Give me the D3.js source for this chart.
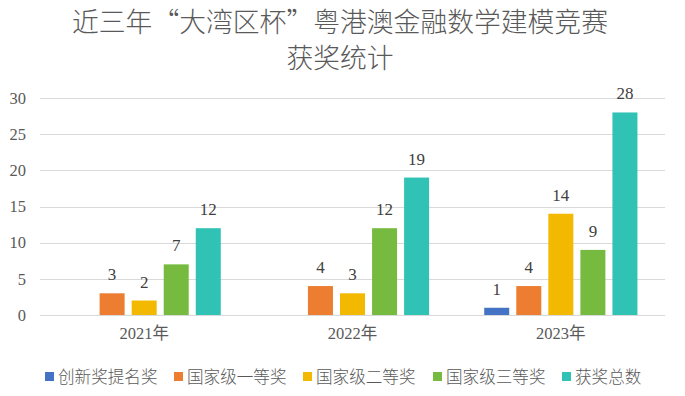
<!DOCTYPE html>
<html><head><meta charset="utf-8">
<script src="https://cdn.jsdelivr.net/npm/d3@7"></script>
<style>
body{margin:0;background:#fff;}
svg{display:block;}
.num{font-family:"Liberation Serif","Times New Roman","DejaVu Serif","Noto Sans CJK SC",serif;}
.cjk{font-family:"Noto Sans CJK SC",sans-serif;font-weight:300;}
</style></head>
<body><svg id="c" width="685" height="396"></svg>
<script>
const categories = ["2021年", "2022年", "2023年"];
const seriesNames = ["创新奖提名奖", "国家级一等奖", "国家级二等奖", "国家级三等奖", "获奖总数"];
const nominee = [null, null, 1];
const first = [3, 4, 4];
const second = [2, 3, 14];
const third = [7, 12, 9];
const total = [12, 19, 28];
const yTicks = [0, 5, 10, 15, 20, 25, 30];
const colors = ["#4472C4", "#ED7D31", "#F3B800", "#76BB40", "#30C2B4"];
const titleLines = ["近三年“大湾区杯”粤港澳金融数学建模竞赛", "获奖统计"];

const seriesValues = [nominee, first, second, third, total];
const svg = d3.select("#c");
const W = 685, H = 396;
const m = {left: 40, right: 20, top: 98, bottom: 81};
const textColor = "#595959";

svg.append("rect").attr("width", W).attr("height", H).attr("fill", "#fff");

// title
svg.append("g").selectAll("text").data(titleLines).join("text")
  .attr("class", "cjk")
  .attr("x", 340).attr("y", (d, i) => 32 + i * 36)
  .attr("text-anchor", "middle")
  .attr("font-size", 26.8).attr("fill", textColor)
  .text(d => d);

const y = d3.scaleLinear().domain([0, 30]).range([H - m.bottom, m.top]);
const x0 = d3.scaleBand().domain(categories).range([m.left, W - m.right]).padding(0);
const x1 = d3.scaleBand().domain(seriesNames).range([0, x0.bandwidth()]).paddingInner(0.22).paddingOuter(0.86);

// gridlines
svg.append("g").selectAll("line").data(yTicks).join("line")
  .attr("x1", m.left).attr("x2", W - m.right)
  .attr("y1", d => Math.round(y(d)) + 0.5).attr("y2", d => Math.round(y(d)) + 0.5)
  .attr("stroke", "#D9D9D9").attr("stroke-width", 1);

// y axis labels
const yAxis = d3.axisLeft(y).tickValues(yTicks).tickSize(0).tickPadding(0);
const ga = svg.append("g").attr("transform", `translate(${m.left - 14},0)`).call(yAxis)
  .attr("font-family", null);
ga.select(".domain").remove();
ga.selectAll("text").attr("class", "num").attr("font-size", 16.5).attr("fill", textColor);

// x axis labels
const xAxis = d3.axisBottom(x0).tickSize(0).tickPadding(0);
const gx = svg.append("g").attr("transform", `translate(0,${H - m.bottom + 12})`).call(xAxis)
  .attr("font-family", null);
gx.select(".domain").remove();
gx.selectAll("text").attr("class", "num").attr("font-size", 16.5).attr("fill", textColor);

// bars
const rows = [];
seriesValues.forEach((vals, si) => {
  vals.forEach((v, ci) => {
    rows.push({series: seriesNames[si], si, cat: categories[ci], v});
  });
});
const valid = rows.filter(d => d.v != null);
svg.append("g").selectAll("rect").data(valid).join("rect")
  .attr("x", d => x0(d.cat) + x1(d.series))
  .attr("width", x1.bandwidth())
  .attr("y", d => y(d.v))
  .attr("height", d => y(0) - y(d.v))
  .attr("fill", d => colors[d.si]);

svg.append("g").selectAll("text").data(valid).join("text")
  .attr("class", "num")
  .attr("x", d => x0(d.cat) + x1(d.series) + x1.bandwidth() / 2)
  .attr("y", d => y(d.v) - 13)
  .attr("text-anchor", "middle")
  .attr("font-size", 17).attr("fill", "#404040")
  .text(d => d.v);

// legend
const legendX = [45, 174, 303, 433, 562];
const lg = svg.append("g").selectAll("g").data(seriesNames).join("g")
  .attr("transform", (d, i) => `translate(${legendX[i]},372)`);
lg.append("rect").attr("width", 9).attr("height", 9).attr("fill", (d, i) => colors[i]);
lg.append("text").attr("class", "cjk").attr("x", 13).attr("y", 10.5)
  .attr("font-size", 16.6).attr("fill", textColor)
  .text(d => d);
</script></body></html>
